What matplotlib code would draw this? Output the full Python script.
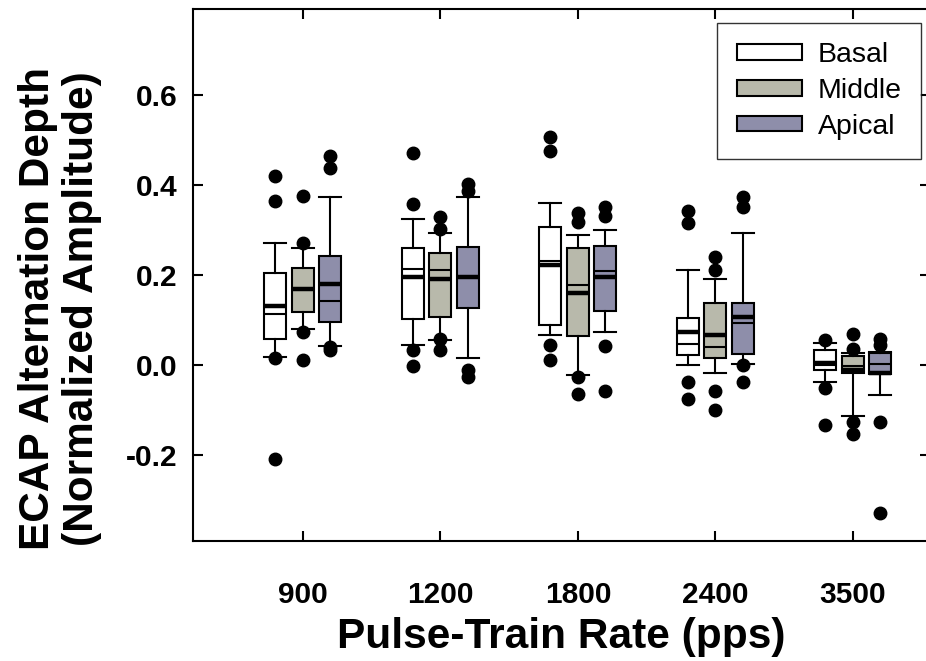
import numpy as np
import matplotlib.pyplot as plt
from matplotlib.patches import Patch

plt.rcParams['font.family'] = ['Liberation Sans', 'DejaVu Sans']

rates = ['900', '1200', '1800', '2400', '3500']
regions = ['Basal', 'Middle', 'Apical']
region_colors = ['#ffffff', '#b8b9ab', '#8e8eaa']

# box statistics per region, one value per rate
basal_q1 = [0.059, 0.102, 0.090, 0.022, -0.010]
basal_q3 = [0.205, 0.260, 0.306, 0.105, 0.033]
basal_med = [0.113, 0.213, 0.231, 0.048, 0.000]
basal_mean = [0.131, 0.196, 0.222, 0.074, 0.006]
basal_lo = [0.018, 0.044, 0.067, 0.000, -0.037]
basal_hi = [0.271, 0.324, 0.359, 0.212, 0.050]
basal_out = [[0.420, 0.364, 0.015, -0.208],
             [0.470, 0.358, 0.033, -0.001],
             [0.506, 0.475, 0.044, 0.011],
             [0.341, 0.316, -0.037, -0.074],
             [0.055, -0.050, -0.133]]

middle_q1 = [0.119, 0.106, 0.064, 0.016, -0.017]
middle_q3 = [0.215, 0.250, 0.260, 0.138, 0.020]
middle_med = [0.168, 0.211, 0.179, 0.041, -0.002]
middle_mean = [0.169, 0.191, 0.161, 0.066, -0.010]
middle_lo = [0.081, 0.057, -0.021, -0.018, -0.113]
middle_hi = [0.261, 0.293, 0.288, 0.192, 0.027]
middle_out = [[0.375, 0.270, 0.074, 0.011],
              [0.328, 0.302, 0.058, 0.033],
              [0.338, 0.318, -0.026, -0.064],
              [0.240, 0.212, -0.057, -0.100],
              [0.070, 0.037, -0.126, -0.152]]

apical_q1 = [0.096, 0.126, 0.120, 0.024, -0.020]
apical_q3 = [0.243, 0.263, 0.265, 0.138, 0.027]
apical_med = [0.142, 0.195, 0.209, 0.094, 0.002]
apical_mean = [0.180, 0.196, 0.196, 0.106, -0.018]
apical_lo = [0.043, 0.015, 0.073, 0.002, -0.066]
apical_hi = [0.374, 0.373, 0.299, 0.293, 0.030]
apical_out = [[0.463, 0.438, 0.041, 0.033],
              [0.401, 0.386, -0.011, -0.026],
              [0.350, 0.330, 0.042, -0.057],
              [0.373, 0.351, 0.000, -0.037],
              [0.059, 0.044, -0.126, -0.327]]

series = [
    (basal_q1, basal_q3, basal_med, basal_mean, basal_lo, basal_hi, basal_out),
    (middle_q1, middle_q3, middle_med, middle_mean, middle_lo, middle_hi, middle_out),
    (apical_q1, apical_q3, apical_med, apical_mean, apical_lo, apical_hi, apical_out),
]

fig = plt.figure(figsize=(9.26, 6.61), dpi=100)
ax = fig.add_axes([0.2084, 0.1815, 0.7959, 0.8048])

x = np.arange(1, len(rates) + 1)
offsets = [-0.2, 0.0, 0.2]
bw = 0.16

for (q1, q3, med, mean, lo, hi, out), off, col in zip(series, offsets, region_colors):
    stats = []
    for i in range(len(rates)):
        stats.append(dict(q1=q1[i], q3=q3[i], med=med[i], mean=mean[i],
                          whislo=lo[i], whishi=hi[i], fliers=out[i]))
    ax.bxp(stats, positions=x + off, widths=bw, capwidths=bw,
           showmeans=True, meanline=True, patch_artist=True, manage_ticks=False,
           boxprops=dict(facecolor=col, edgecolor='black', linewidth=1.5),
           medianprops=dict(color='black', linewidth=1.5),
           meanprops=dict(color='black', linewidth=3.2, linestyle='-'),
           whiskerprops=dict(color='black', linewidth=1.5),
           capprops=dict(color='black', linewidth=1.5),
           flierprops=dict(marker='o', markerfacecolor='black',
                           markeredgecolor='black', markersize=9))

ax.set_xlim(0.2, 5.56)
ax.set_ylim(-0.39, 0.79)
ax.set_xticks(x)
ax.set_xticklabels(rates)
ax.set_yticks([-0.2, 0.0, 0.2, 0.4, 0.6])
ax.set_yticklabels(['-0.2', '0.0', '0.2', '0.4', '0.6'])

for sp in ax.spines.values():
    sp.set_linewidth(1.5)
ax.tick_params(direction='in', top=True, right=True, length=7, width=1.5,
               labelsize=21.5)
ax.tick_params(axis='x', pad=29)
ax.tick_params(axis='y', pad=11)
for lab in ax.get_xticklabels() + ax.get_yticklabels():
    lab.set_fontweight('bold')

fig.text(0.606, 1 - 637 / 661, 'Pulse-Train Rate (pps)', ha='center', va='center',
         fontsize=30.5, fontweight='bold')
fig.text(0.065, 1 - 309 / 661, 'ECAP Alternation Depth\n(Normalized Amplitude)',
         rotation=90, ha='center', va='center', multialignment='center',
         fontsize=30.5, fontweight='bold', linespacing=1.12)

handles = [Patch(facecolor=c, edgecolor='black', linewidth=1.5) for c in region_colors]
leg = ax.legend(handles, regions, loc='upper right', bbox_to_anchor=(0.988, 0.974),
                borderaxespad=0, fontsize=20.5, frameon=True, fancybox=False,
                edgecolor='black', handlelength=2.3, handleheight=0.46,
                handletextpad=0.55, labelspacing=0.34, borderpad=0.68)
leg.get_frame().set_linewidth(1.0)

fig.savefig('out.png', dpi=100)
